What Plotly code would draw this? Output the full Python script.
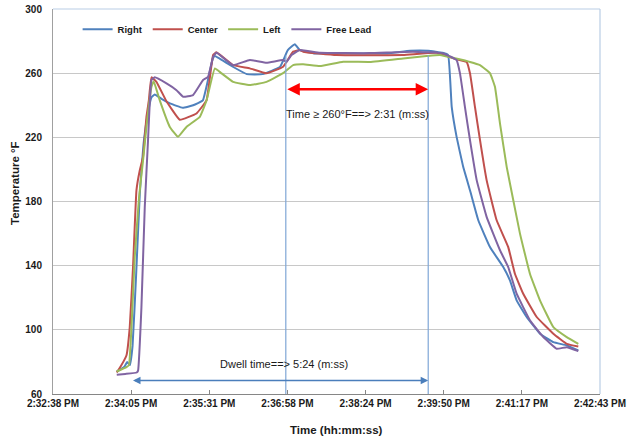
import pandas as pd
import plotly.graph_objects as go

START = "2015-01-01 14:32:38"
SPAN_S = 605  # axis span in seconds (2:32:38 PM -> 2:42:43 PM)

tick_labels = ["2:32:38 PM", "2:34:05 PM", "2:35:31 PM", "2:36:58 PM",
               "2:38:24 PM", "2:39:50 PM", "2:41:17 PM", "2:42:43 PM"]
y_ticks = [60, 100, 140, 180, 220, 260, 300]

# elapsed seconds after 2:32:38 PM, temperature in °F
right_t = [70.5, 79, 82, 85, 88, 92, 96, 100, 104, 109, 112.5, 120, 130, 143.5, 155, 165.7,
           176.7, 179, 198.9, 214.4, 232, 251, 259.7, 267.5, 273, 290, 330, 370, 395, 415,
           431, 437, 441, 446.4, 453.7, 461.2, 470.4, 483.3, 498, 505.4, 512.8, 523.9,
           538.6, 553.4, 568.2, 581]
right_v = [74, 77, 80, 78, 90, 135, 185, 215, 232, 245, 246.7, 244, 241, 238.4, 240, 243,
           269, 270.7, 264, 259.4, 259.4, 263.8, 274.4, 278, 274.4, 272.3, 272.3, 272.3, 274, 274,
           272.7, 271.3, 239, 220.3, 201.6, 187, 168.3, 151.6, 139.1, 130.8, 118.4, 108,
           97.6, 92.3, 90.3, 87.1]

center_t = [70.5, 72, 81.2, 84.9, 88.5, 92.3, 96, 99.6, 103.4, 106, 108.9, 114.4, 125, 140.2,
            158.7, 169.8, 177.1, 180.8, 199.2, 217.7, 236.2, 254.5, 265.6, 273, 276.7, 313.6,
            387, 424.3, 442.7, 457.5, 461.2, 466.7, 472.3, 479.6, 490.7, 503.5, 510.9, 520.1,
            535, 553.4, 568.2, 581]
center_v = [73.4, 74.6, 84, 101.7, 139, 187, 199.5, 207.8, 233, 243, 257.4, 254.6, 243, 231,
            234.9, 243, 271.3, 273, 265, 263, 259.9, 264, 273.4, 274.4, 273.4, 271.3,
            271.3, 272.7, 269.2, 267, 259.9, 239, 218.2, 193.3, 168.3, 151.6, 135, 122.5,
            108, 97.6, 91.3, 89.6]

left_t = [70.5, 81.2, 84, 86.8, 90.4, 95.2, 99.6, 104, 108.9, 111.4, 118.1, 129.2, 138.3,
          147.6, 162.4, 169.8, 179, 186.4, 199.2, 217.7, 236.2, 254.5, 265.6, 276.7, 295.2,
          320.9, 350.5, 387.3, 413.2, 427.9, 461.2, 472.3, 483.3, 488.8, 494.4, 501.8, 509.1,
          516.5, 527.5, 538.6, 553.4, 568.2, 581]
left_v = [74, 76.7, 78, 101.7, 145.4, 182.8, 205.7, 230, 251.5, 255, 243, 226.5, 220.3,
          226.5, 232.8, 243, 263, 259.9, 254.6, 252.6, 254.6, 260, 265, 265.5, 264.4,
          267.1, 267, 269.2, 270.7, 271.3, 267, 265, 260, 251.5, 228.6, 201.6, 180.8,
          160, 135, 118.4, 101.7, 95.5, 91.3]

free_t = [70.5, 80, 92.6, 94.1, 97.8, 101.5, 105.1, 108.9, 112.5, 125.5, 136.6, 143.9, 154.9,
          166, 171.5, 177.1, 180.8, 199.2, 217.7, 236.2, 254.5, 258.3, 263.8, 273, 295.2, 350,
          398.1, 431.6, 446.4, 450.1, 455.6, 461.2, 468.6, 479.6, 494.4, 503.5, 512.8, 527.5,
          542.3, 557.1, 568.2, 581]
free_v = [72, 72.5, 73.4, 74.6, 114, 176.6, 218, 255.7, 257.4, 253.6, 249.4, 245.3, 246.3,
          255.7, 257.7, 270.2, 272.7, 265, 268.2, 266.5, 268.2, 267, 271.3, 274.4, 272.7, 272.5,
          273.4, 272.3, 268.2, 260, 239, 218.2, 193.3, 170.4, 149.6, 139.1, 122.5, 106,
          95.5, 88.2, 89.2, 86.7]

# annotation values (elapsed seconds / °F)
mark_start_s = 257.5      # first crossing of 260 °F
mark_end_s = 415          # end of dwell
dwell_start_s = 86.8
red_arrow_y = 250
blue_arrow_y = 68.4

series = [
    ("Right", right_t, right_v, "#4F81BD"),
    ("Center", center_t, center_v, "#C0504D"),
    ("Left", left_t, left_v, "#9BBB59"),
    ("Free Lead", free_t, free_v, "#8064A2"),
]

base = pd.Timestamp(START)


def tt(s):
    return base + pd.to_timedelta(s, unit="s")


fig = go.Figure()
for name, t, v, col in series:
    fig.add_trace(go.Scatter(
        x=[tt(s) for s in t], y=v, name=name, mode="lines",
        line=dict(color=col, width=2, shape="spline", smoothing=0.3),
    ))

tickvals = [tt(i * SPAN_S / 7) for i in range(8)]
FONT = "Liberation Sans, Arial, sans-serif"

# vertical marker lines
for s in (mark_start_s, mark_end_s):
    fig.add_shape(type="line", x0=tt(s), x1=tt(s), y0=59, y1=271, xref="x", yref="y",
                  line=dict(color="#7FA6D6", width=1.2), layer="above")

# plot-area border (top / right)
fig.add_shape(type="line", xref="paper", yref="paper", x0=0, x1=1, y0=1, y1=1,
              line=dict(color="#B9CDE5", width=1.2))
fig.add_shape(type="line", xref="paper", yref="paper", x0=1, x1=1, y0=0, y1=1,
              line=dict(color="#B9CDE5", width=1.2))

# arrows
fig.add_annotation(x=tt(mark_end_s), y=red_arrow_y, ax=tt(mark_start_s), ay=red_arrow_y,
                   xref="x", yref="y", axref="x", ayref="y", text="", showarrow=True,
                   arrowhead=2, arrowside="end+start", arrowsize=1, arrowwidth=2.5,
                   arrowcolor="#FF0000")
fig.add_annotation(x=tt(mark_end_s), y=blue_arrow_y, ax=tt(dwell_start_s), ay=blue_arrow_y,
                   xref="x", yref="y", axref="x", ayref="y", text="", showarrow=True,
                   arrowhead=2, arrowside="end+start", arrowsize=1, arrowwidth=1.5,
                   arrowcolor="#4A7EBB")

fig.add_annotation(x=tt(337), y=234.5, xref="x", yref="y", showarrow=False,
                   text="Time ≥ 260°F==> 2:31 (m:ss)",
                   font=dict(family=FONT, size=11, color="#1a1a1a"))
fig.add_annotation(x=tt(255), y=78.4, xref="x", yref="y", showarrow=False,
                   text="Dwell time==> 5:24 (m:ss)",
                   font=dict(family=FONT, size=11, color="#1a1a1a"))

PL, PR, PT, PB = 53, 600, 9, 394
W, H = 629, 441

# axis titles (positions given in pixels, converted to paper coords)
fig.add_annotation(x=(336 - PL) / (PR - PL), y=(PB - 430) / (PB - PT),
                   xref="paper", yref="paper", xanchor="center", yanchor="middle",
                   showarrow=False, text="<b>Time (hh:mm:ss)</b>",
                   font=dict(family=FONT, size=11.5, color="#1a1a1a"))
fig.add_annotation(x=(15 - PL) / (PR - PL), y=(PB - 183) / (PB - PT),
                   xref="paper", yref="paper", xanchor="center", yanchor="middle",
                   showarrow=False, textangle=-90, text="<b>Temperature °F</b>",
                   font=dict(family=FONT, size=11.5, color="#1a1a1a"))

fig.update_layout(
    width=W, height=H,
    margin=dict(l=PL, r=W - PR, t=PT, b=H - PB, autoexpand=False),
    paper_bgcolor="white", plot_bgcolor="white",
    font=dict(family=FONT, size=10, color="#1a1a1a"),
    showlegend=True,
    legend=dict(orientation="h", x=0.045, y=0.985, xanchor="left", yanchor="top",
                bgcolor="rgba(0,0,0,0)", font=dict(family=FONT, size=9.5, color="#1a1a1a",
                                                    weight="bold"),
                itemwidth=30, tracegroupgap=0),
    xaxis=dict(
        type="date", range=[tt(0), tt(SPAN_S)], automargin=False,
        tickvals=tickvals, ticktext=tick_labels,
        tickfont=dict(family=FONT, size=10, weight="bold", color="#1a1a1a"),
        ticks="inside", ticklen=4, tickcolor="#868686",
        showline=True, linecolor="#868686", linewidth=1,
        showgrid=False, zeroline=False,
    ),
    yaxis=dict(
        range=[60, 300], tickvals=y_ticks, automargin=False,
        tickfont=dict(family=FONT, size=10, weight="bold", color="#1a1a1a"),
        ticks="", ticklabelstandoff=8,
        showline=True, linecolor="#A0A0A0", linewidth=1,
        showgrid=True, gridcolor="#C8C8C8", gridwidth=1, zeroline=False,
    ),
)

fig.write_html("out.html", config={"displayModeBar": False},
               post_script="document.body.style.margin='0';")
